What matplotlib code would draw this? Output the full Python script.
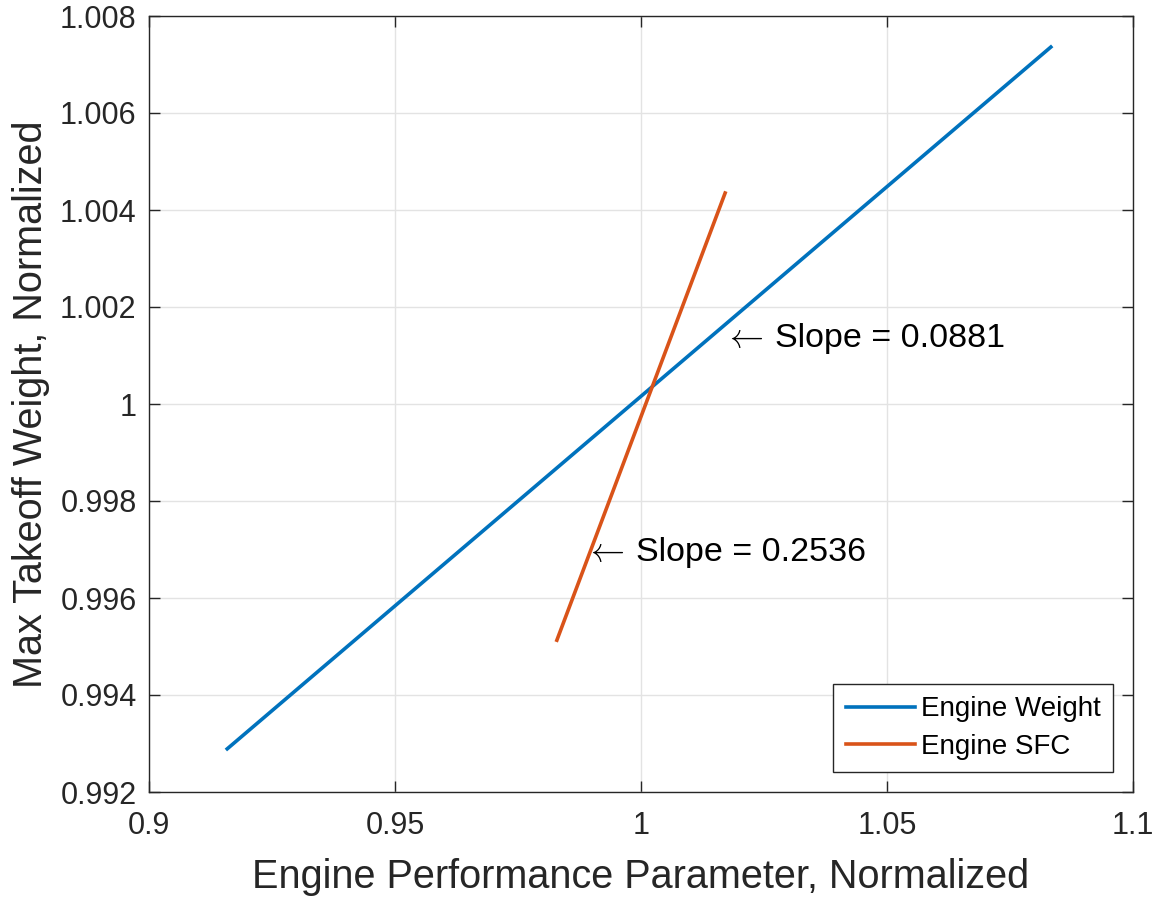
import matplotlib
matplotlib.use('Agg')
import matplotlib.pyplot as plt

plt.rcParams['font.family'] = ['Liberation Sans', 'DejaVu Sans']
plt.rcParams['mathtext.fontset'] = 'cm'

# data
weight_x = [0.9159, 1.0833]
weight_y = [0.99289, 1.00736]
sfc_x = [0.9829, 1.0171]
sfc_y = [0.99513, 1.00435]
series_names = ['Engine Weight', 'Engine SFC']
slope_labels = ['Slope = 0.0881', 'Slope = 0.2536']
slope_pos = [(1.0169, 1.00136), (0.9886, 0.99693)]

x_ticks = [0.9, 0.95, 1.0, 1.05, 1.1]
x_ticklabels = ['0.9', '0.95', '1', '1.05', '1.1']
y_ticks = [0.992, 0.994, 0.996, 0.998, 1.0, 1.002, 1.004, 1.006, 1.008]
y_ticklabels = ['0.992', '0.994', '0.996', '0.998', '1', '1.002', '1.004', '1.006', '1.008']

fig = plt.figure(figsize=(11.58, 8.98), dpi=100)
ax = fig.add_axes([149/1158, 1 - 792/898, (1133-149)/1158, (792-16)/898])

dark = '#262626'
ax.plot(weight_x, weight_y, color='#0072BD', lw=2.6, label=series_names[0])
ax.plot(sfc_x, sfc_y, color='#D95319', lw=2.6, label=series_names[1])

# arrow + label, like MATLAB's '\leftarrow Slope = ...'
for (tx, ty), s in zip(slope_pos, slope_labels):
    ax.text(tx, ty, r'$\leftarrow$', fontsize=24.5, color='black',
            va='center', ha='left')
    ax.annotate(s, xy=(tx, ty), xytext=(36.5, 0), textcoords='offset points',
                fontsize=24.5, color='black', va='center', ha='left')

ax.set_xlim(0.9, 1.1)
ax.set_ylim(0.992, 1.008)
ax.set_xticks(x_ticks)
ax.set_xticklabels(x_ticklabels)
ax.set_yticks(y_ticks)
ax.set_yticklabels(y_ticklabels)
ax.grid(True, color='#e3e3e3', lw=1.0)
ax.set_axisbelow(True)

ax.tick_params(direction='in', length=8, width=1, colors=dark, labelsize=22,
               top=True, right=True)
ax.tick_params(axis='x', pad=14)
ax.tick_params(axis='y', pad=9)
for sp in ax.spines.values():
    sp.set_color(dark)
    sp.set_linewidth(1.0)

ax.set_xlabel('Engine Performance Parameter, Normalized', fontsize=28.5, color=dark, labelpad=12)
ax.set_ylabel('Max Takeoff Weight, Normalized', fontsize=28.5, color=dark, labelpad=7)

leg = ax.legend(loc='lower right', fontsize=20, fancybox=False, framealpha=1,
                edgecolor=dark, handlelength=2.5, borderaxespad=0.72,
                labelspacing=0.4, handletextpad=0.2, borderpad=0.45)
leg.get_frame().set_linewidth(1.0)

fig.savefig('out.png', dpi=100)
